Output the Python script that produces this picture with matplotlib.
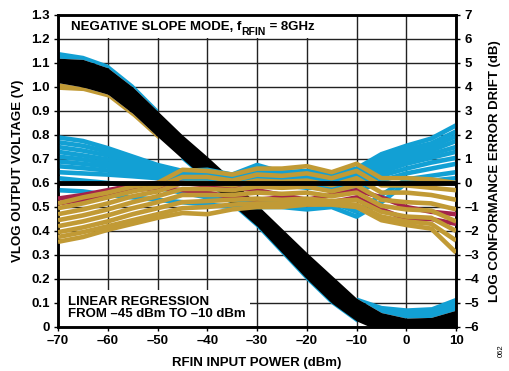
import numpy as np
import matplotlib.pyplot as plt
from matplotlib.patches import Rectangle

plt.rcParams['font.family'] = ['Liberation Sans', 'DejaVu Sans']
plt.rcParams['font.weight'] = 'bold'

# входная мощность, dBm
x = [-70, -65, -60, -55, -50, -45, -40, -35, -30, -25, -20, -15, -10, -5, 0, 5, 10]

# VLOG, V (черная полоса - края)
vlog_upper = [1.12, 1.115, 1.08, 1.00, 0.90, 0.80, 0.71, 0.615, 0.51, 0.41, 0.31, 0.215, 0.12, 0.06, 0.037, 0.04, 0.07]
vlog_lower = [1.018, 1.00, 0.97, 0.89, 0.793, 0.70, 0.61, 0.51, 0.42, 0.31, 0.20, 0.10, 0.025, -0.02, -0.02, -0.02, -0.02]
x_left = [-70, -65, -60, -55, -50]
vlog_blue_top = [1.148, 1.132, 1.095, 1.012, 0.908]
vlog_gold_bottom = [0.99, 0.985, 0.958, 0.878, 0.785]
x_right = [-10, -5, 0, 5, 10]
vlog_blue_right = [0.125, 0.09, 0.08, 0.085, 0.125]

# ошибка, dB
err_blue = [
    [1.9, 1.75, 1.45, 1.1, 0.75, 0.5, 0.55, 0.35, 0.75, 0.45, 0.5, 0.4, 0.6, 1.2, 1.55, 1.85, 2.4],
    [1.7, 1.55, 1.3, 1.0, 0.68, 0.48, 0.48, 0.32, 0.62, 0.38, 0.4, 0.3, 0.45, 1.05, 1.4, 1.65, 2.15],
    [1.5, 1.35, 1.15, 0.88, 0.6, 0.42, 0.4, 0.28, 0.5, 0.3, 0.3, 0.2, 0.3, 0.9, 1.25, 1.5, 1.95],
    [1.3, 1.15, 0.98, 0.76, 0.5, 0.36, 0.32, 0.22, 0.38, 0.24, 0.2, 0.15, 0.2, 0.75, 1.1, 1.35, 1.75],
    [1.1, 0.98, 0.82, 0.65, 0.44, 0.3, 0.25, 0.15, 0.28, 0.16, 0.1, 0.05, 0.1, 0.6, 0.95, 1.2, 1.5],
    [0.9, 0.8, 0.68, 0.54, 0.36, 0.25, 0.18, 0.08, 0.2, 0.1, 0.0, 0.0, 0.0, 0.45, 0.8, 1.05, 1.3],
    [0.7, 0.62, 0.52, 0.42, 0.3, 0.2, 0.1, 0.0, 0.1, 0.0, -0.1, -0.1, -0.2, 0.3, 0.6, 0.85, 1.05],
    [0.45, 0.4, 0.35, 0.28, 0.2, 0.12, 0.02, -0.08, 0.0, -0.08, -0.2, -0.2, -0.4, 0.1, 0.4, 0.6, 0.8],
    [0.2, 0.1, 0.0, -0.1, -0.2, -0.4, -0.6, -0.7, -0.8, -0.8, -0.9, -0.8, -1.2, -0.5, 0.15, 0.3, 0.45],
    [-0.3, -0.35, -0.5, -0.6, -0.7, -0.8, -0.9, -1.0, -1.0, -1.0, -1.1, -1.0, -1.4, -0.8, 0.0, 0.1, 0.2],
]
err_maroon = [
    [-0.65, -0.5, -0.3, -0.1, 0.0, 0.0, -0.1, -0.2, -0.3, -0.5, -0.7, -0.5, -0.3, -0.6, -1.0, -1.2, -1.3],
    [-0.85, -0.7, -0.5, -0.3, -0.2, -0.3, -0.4, -0.6, -0.7, -0.6, -0.9, -0.8, -0.6, -1.1, -1.5, -1.5, -1.7],
]
err_gold = [
    [-0.85, -0.6, -0.4, -0.15, 0.0, 0.55, 0.5, 0.35, 0.6, 0.6, 0.7, 0.45, 0.8, 0.2, 0.2, 0.15, 0.0],
    [-1.05, -0.85, -0.6, -0.35, -0.15, 0.25, 0.25, 0.1, 0.35, 0.3, 0.4, 0.2, 0.5, -0.1, -0.1, -0.2, -0.3],
    [-1.3, -1.1, -0.85, -0.55, -0.35, 0.0, 0.0, -0.1, 0.1, 0.05, 0.1, -0.1, 0.2, -0.4, -0.4, -0.5, -0.7],
    [-1.55, -1.35, -1.1, -0.8, -0.55, -0.25, -0.25, -0.3, -0.15, -0.2, -0.15, -0.35, -0.1, -0.7, -0.8, -0.85, -1.1],
    [-1.8, -1.6, -1.35, -1.05, -0.8, -0.5, -0.5, -0.5, -0.4, -0.45, -0.4, -0.55, -0.4, -0.95, -1.1, -1.15, -1.6],
    [-2.05, -1.85, -1.6, -1.3, -1.05, -0.8, -0.75, -0.7, -0.65, -0.7, -0.65, -0.75, -0.7, -1.2, -1.4, -1.45, -2.0],
    [-2.25, -2.05, -1.8, -1.55, -1.3, -1.05, -1.0, -0.9, -0.85, -0.85, -0.8, -0.85, -0.9, -1.4, -1.6, -1.7, -2.4],
    [-2.45, -2.25, -1.95, -1.7, -1.45, -1.25, -1.3, -1.1, -1.0, -1.0, -0.9, -0.9, -1.0, -1.55, -1.75, -1.9, -2.9],
]

xticks = [-70, -60, -50, -40, -30, -20, -10, 0, 10]
xtick_labels = ['–70', '–60', '–50', '–40', '–30', '–20', '–10', '0', '10']
vticks = [0, 0.1, 0.2, 0.3, 0.4, 0.5, 0.6, 0.7, 0.8, 0.9, 1.0, 1.1, 1.2, 1.3]
vtick_labels = ['0', '0.1', '0.2', '0.3', '0.4', '0.5', '0.6', '0.7', '0.8', '0.9', '1.0', '1.1', '1.2', '1.3']
dbticks = [-6, -5, -4, -3, -2, -1, 0, 1, 2, 3, 4, 5, 6, 7]
dbtick_labels = ['–6', '–5', '–4', '–3', '–2', '–1', '0', '1', '2', '3', '4', '5', '6', '7']

BLUE = '#12a0d4'
MAROON = '#a3224a'
GOLD = '#c19a35'
FS = 9.5

fig = plt.figure(figsize=(5.09, 3.71), dpi=100)
ax = fig.add_axes([0.114, 0.1186, 0.782, 0.841])
ax2 = ax.twinx()

ax.set_xlim(-70, 10)
ax.set_ylim(0, 1.3)
ax2.set_ylim(-6, 7)
ax.grid(True, color='#222222', linewidth=1.0, zorder=0)
ax.set_axisbelow(True)

# белые подложки под подписями
ax.add_patch(Rectangle((-70, 1.206), 51.6, 0.1, facecolor='white', edgecolor='none', zorder=1))
ax.add_patch(Rectangle((-70, 0), 38.6, 0.153, facecolor='white', edgecolor='none', zorder=1))

# VLOG
ax.fill_between(x_left, vlog_upper[:5], vlog_blue_top, color=BLUE, lw=0, zorder=2)
ax.fill_between(x_left, vlog_gold_bottom, vlog_lower[:5], color=GOLD, lw=0, zorder=2)
ax.plot(x[5:13], vlog_lower[5:13], color=BLUE, lw=1.5, zorder=2)
ax.fill_between(x_right, vlog_upper[-5:], vlog_blue_right, color=BLUE, lw=0, zorder=2)
ax.fill_between(x, vlog_lower, vlog_upper, color='black', lw=0, zorder=3)

# ошибка
for c in err_blue:
    ax2.plot(x, c, color=BLUE, lw=3.3, solid_capstyle='butt', zorder=2)
for c in err_maroon:
    ax2.plot(x, c, color=MAROON, lw=3.3, solid_capstyle='butt', zorder=3)
for c in err_gold:
    ax2.plot(x, c, color=GOLD, lw=3.3, solid_capstyle='butt', zorder=4)
ax2.axhline(0, color='black', lw=3.5, zorder=5)

ax.set_xticks(xticks)
ax.set_xticklabels(xtick_labels)
ax.set_yticks(vticks)
ax.set_yticklabels(vtick_labels)
ax2.set_yticks(dbticks)
ax2.set_yticklabels(dbtick_labels)
for a in (ax, ax2):
    a.tick_params(labelsize=FS, length=3, width=1, pad=3)
    for s in a.spines.values():
        s.set_linewidth(1.8)

ax.set_xlabel('RFIN INPUT POWER (dBm)', fontsize=FS, fontweight='bold', labelpad=7)
ax.set_ylabel('VLOG OUTPUT VOLTAGE (V)', fontsize=FS, fontweight='bold', labelpad=5)
ax2.set_ylabel('LOG CONFORMANCE ERROR DRIFT (dB)', fontsize=FS, fontweight='bold', labelpad=7)

t1 = ax2.text(-67.4, 6.5, 'NEGATIVE SLOPE MODE, f', fontsize=FS, fontweight='bold',
              va='center', ha='left', zorder=10)
t2 = ax2.annotate('RFIN', xy=(1, 0.05), xycoords=t1, fontsize=7.5, fontweight='bold',
                  va='center', ha='left', zorder=10)
ax2.annotate(' = 8GHz', xy=(1, 0), xycoords=(t2, t1), fontsize=FS, fontweight='bold',
             va='bottom', ha='left', zorder=10)
ax2.text(-68, -5.2, 'LINEAR REGRESSION\nFROM –45 dBm TO –10 dBm', fontsize=FS, fontweight='bold',
         va='center', ha='left', linespacing=0.95, zorder=10)
fig.text(0.985, 0.055, '062', fontsize=5.5, rotation=90, ha='center', va='center', fontweight='normal')

fig.savefig('out.png', dpi=100)
